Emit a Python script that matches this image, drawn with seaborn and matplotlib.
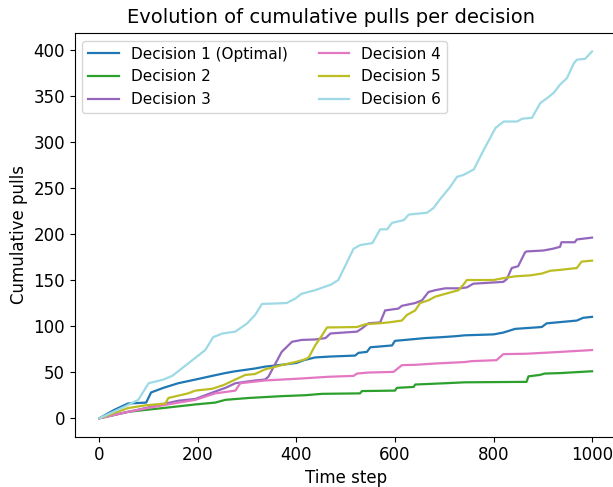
import matplotlib
matplotlib.use("Agg")
import matplotlib.pyplot as plt
import seaborn as sns
import pandas as pd

labels = ["Decision 1 (Optimal)", "Decision 2", "Decision 3",
          "Decision 4", "Decision 5", "Decision 6"]
colors = ["#1f77b4", "#2ca02c", "#9467bd", "#e377c2", "#bcbd22", "#9edae5"]

d1_t = [0, 30, 58, 95, 105, 130, 160, 195, 229, 255, 276, 316, 336, 370, 400, 415, 438, 470,
        519, 526, 543, 550, 594, 600, 621, 661, 695, 722, 742, 800, 820, 844, 898, 908,
        969, 982, 1000]
d1_v = [0, 9, 16, 17, 28, 33, 38, 42, 46, 49, 51, 54, 56, 58, 60, 63, 66, 67,
        68, 71, 72, 77, 79, 84, 85, 87, 88, 89, 90, 91, 93, 97, 99, 103,
        106, 109, 110]

d2_t = [0, 58, 128, 195, 235, 256, 303, 370, 418, 452, 529, 533, 600, 604, 638, 641, 702,
        742, 867, 871, 894, 904, 935, 1000]
d2_v = [0, 7, 11, 15, 17, 20, 22, 24, 25, 26.5, 27, 29.5, 30, 33, 34, 36.6, 38,
        39, 39.5, 45.5, 47, 48.5, 49, 51]

d3_t = [0, 93, 160, 195, 235, 256, 276, 316, 336, 343, 357, 370, 391, 411, 438, 459, 469,
        523, 533, 546, 570, 580, 607, 614, 641, 655, 668, 682, 702, 732, 746, 759, 820,
        827, 837, 850, 864, 867, 901, 921, 935, 938, 965, 969, 1000]
d3_v = [0, 11, 19, 21, 29, 33, 38, 41, 42, 45, 59, 72, 83, 85, 85.5, 87, 92,
        94, 97.5, 103, 104, 117, 119, 122, 125, 128, 137, 139, 141, 141, 142, 146, 148,
        151, 163, 165, 180, 181, 182, 184, 186, 191, 191, 194, 196]

d4_t = [0, 58, 128, 195, 235, 276, 286, 336, 405, 465, 516, 523, 546, 597, 614, 641, 682,
        742, 756, 806, 820, 867, 935, 1000]
d4_v = [0, 7, 14, 20, 27, 30, 38, 41, 43, 45, 46, 48.5, 49.6, 50.3, 57.6, 58, 59.4,
        61, 62, 63, 69.6, 70, 72, 74]

d5_t = [0, 58, 93, 134, 140, 180, 195, 229, 252, 276, 296, 316, 336, 370, 398, 418, 425,
        438, 452, 462, 523, 540, 567, 587, 614, 624, 641, 651, 668, 682, 702, 729, 739,
        746, 800, 820, 844, 874, 898, 915, 935, 969, 979, 1000]
d5_v = [0, 11, 14, 16, 22, 27, 30, 32, 36, 42, 47, 48, 53, 57.6, 61, 64, 66,
        79, 90, 98.5, 99, 102, 103, 104, 106, 112, 117, 125, 128, 132, 135, 139, 145,
        150, 150, 152, 154, 155, 157, 160, 161, 163, 170, 171]

d6_t = [0, 53, 79, 100, 130, 148, 215, 231, 250, 276, 300, 316, 330, 380, 398, 410, 438,
        470, 485, 516, 530, 554, 570, 584, 594, 618, 628, 665, 678, 692, 712, 726, 739,
        760, 780, 804, 821, 848, 858, 878, 895, 908, 922, 935, 949, 963, 969, 986, 1000]
d6_v = [0, 13, 20, 38, 42, 46, 74, 88, 92, 94, 103, 112, 124, 125, 130, 135, 139,
        145, 150, 184, 188, 190, 205, 205, 212, 215, 221, 223, 228, 238, 251, 262, 264,
        270, 291, 315, 322, 322, 325, 326, 342, 347, 353, 362, 369, 385, 389, 390, 398]

series_t = [d1_t, d2_t, d3_t, d4_t, d5_t, d6_t]
series_v = [d1_v, d2_v, d3_v, d4_v, d5_v, d6_v]

frames = []
for lab, ts, vs in zip(labels, series_t, series_v):
    frames.append(pd.DataFrame({"Time step": ts, "Cumulative pulls": vs, "Decision": lab}))
df = pd.concat(frames, ignore_index=True)

fig = plt.figure(figsize=(6.13, 4.87), dpi=100)
ax = fig.add_axes([0.1219, 0.1033, 1.006 - 0.1219, 0.9322 - 0.1033])
sns.lineplot(data=df, x="Time step", y="Cumulative pulls", hue="Decision",
             hue_order=labels, palette=colors, ax=ax, linewidth=1.6,
             estimator=None, sort=False)
ax.set_xlim(-50, 1050)
ax.set_ylim(-20, 418)
ax.tick_params(labelsize=12)
ax.set_title("Evolution of cumulative pulls per decision", fontsize=14, pad=7, x=0.473)
ax.set_xlabel("Time step", fontsize=12, labelpad=3)
ax.set_ylabel("Cumulative pulls", fontsize=12, labelpad=4)
ax.legend(ncol=2, loc="upper left", fontsize=11)
fig.savefig("out.png", dpi=100)
